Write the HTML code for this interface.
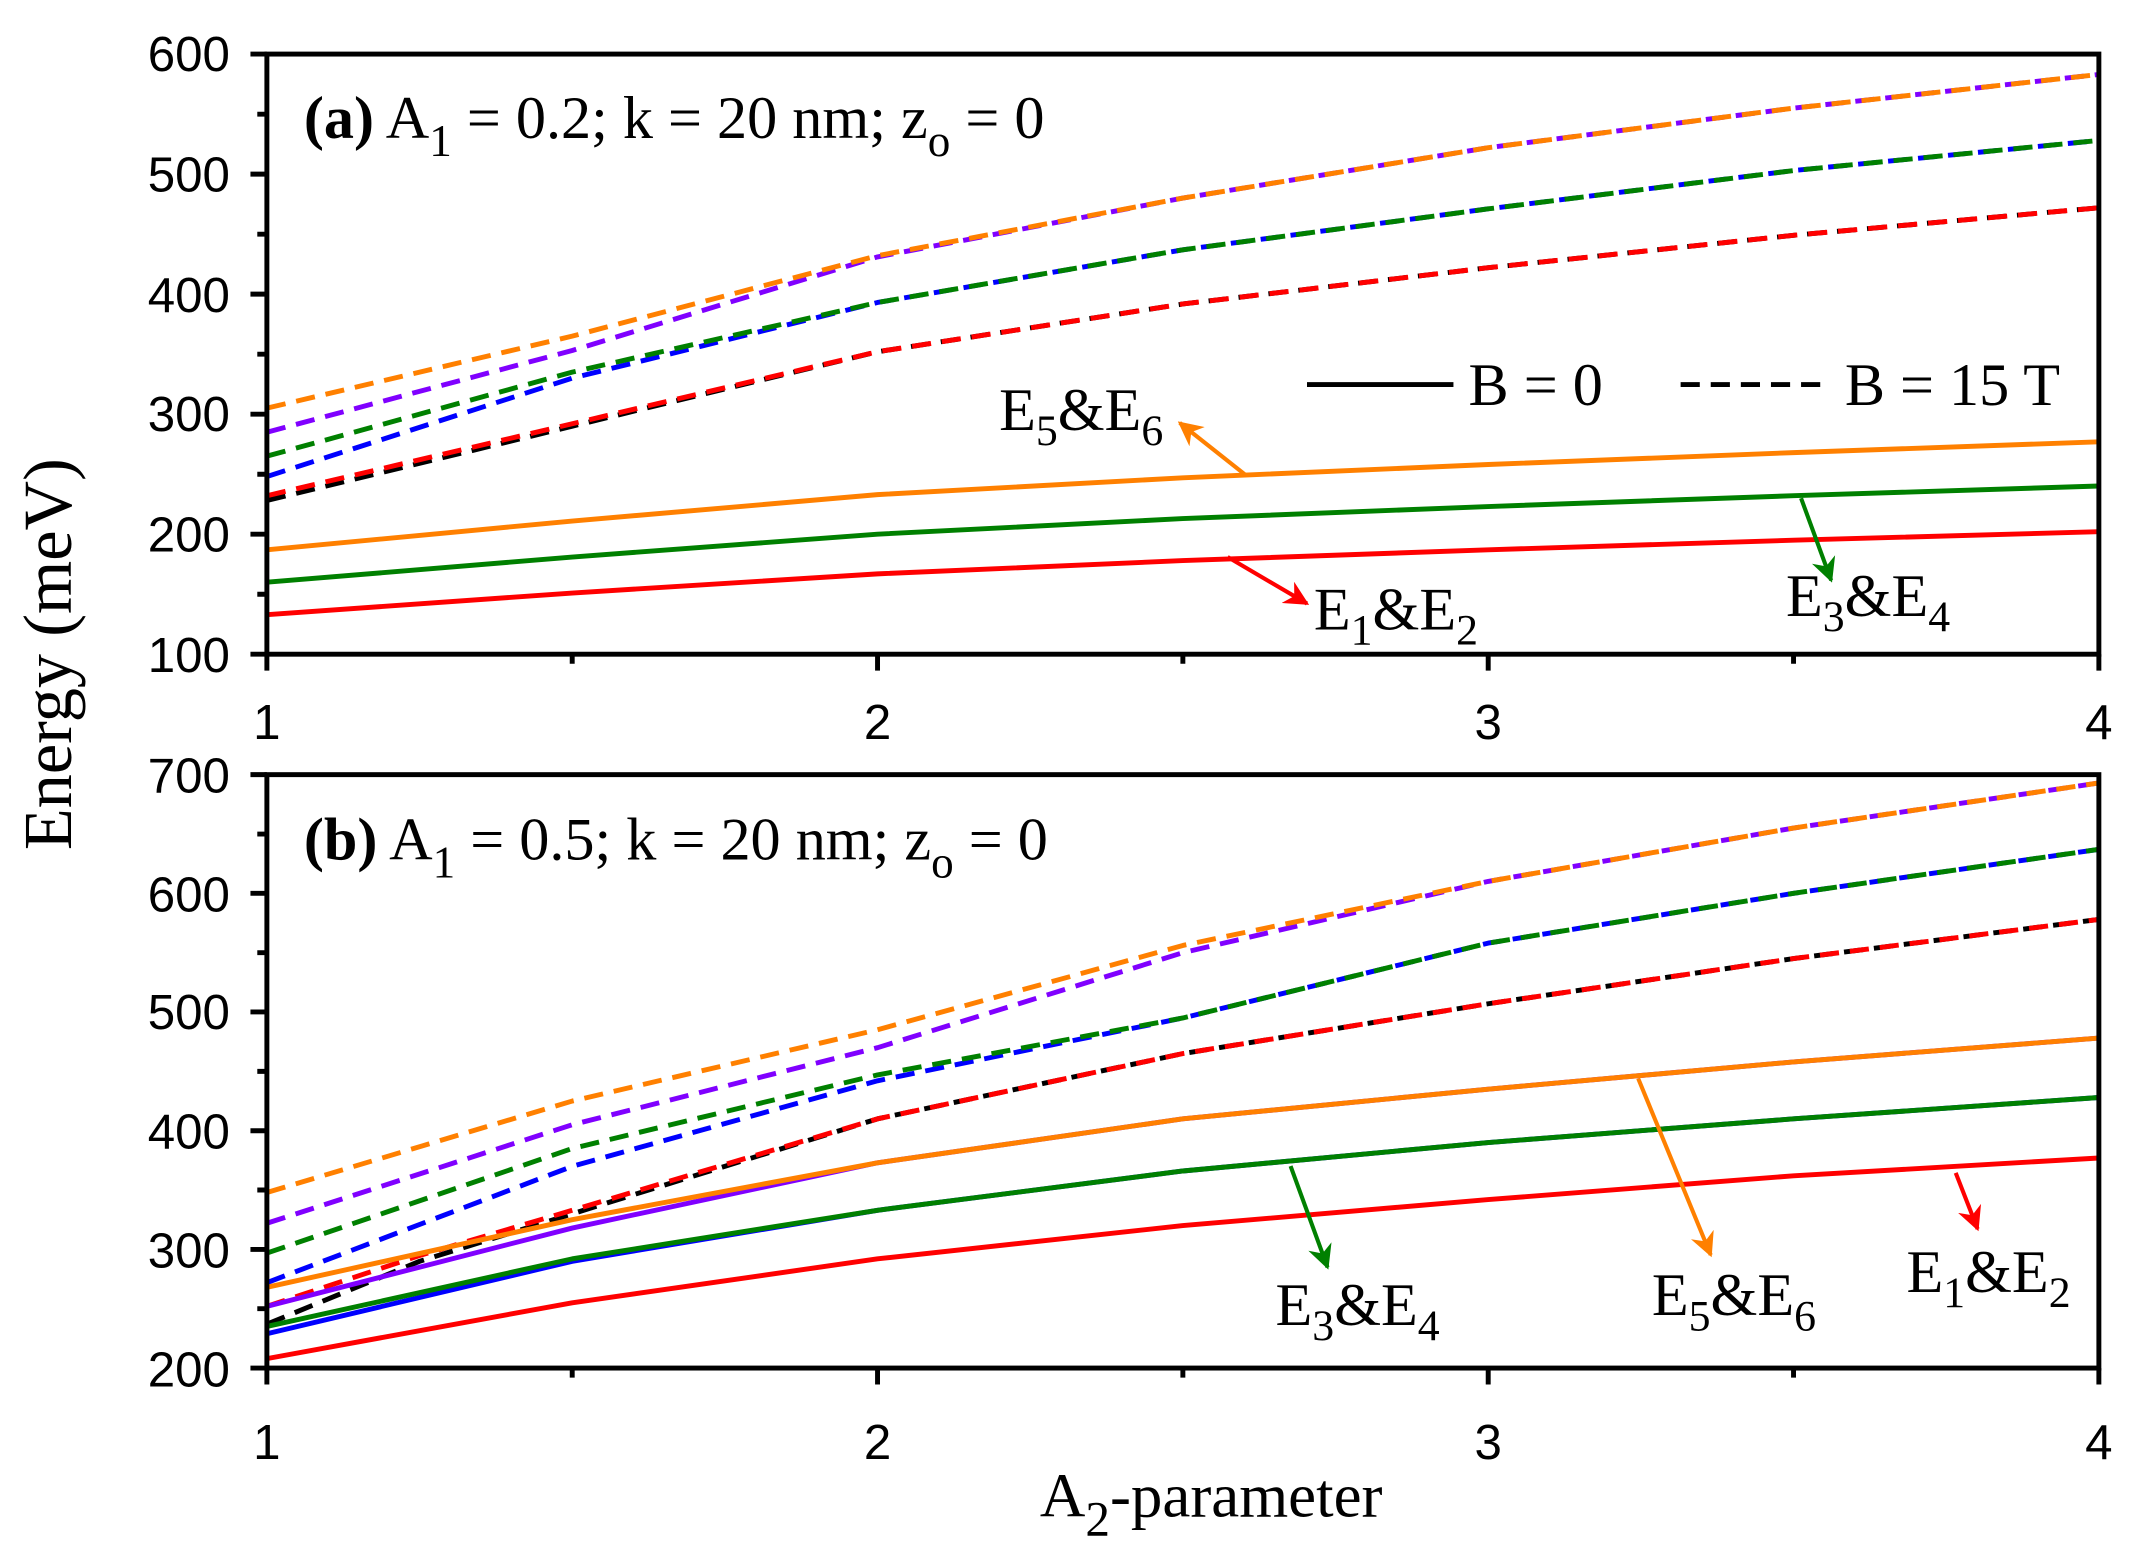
<!DOCTYPE html>
<html><head><meta charset="utf-8"><style>
html,body{margin:0;padding:0;background:#fff;}
svg{display:block;}
.t{font-family:"Liberation Sans",sans-serif;font-size:36px;fill:#000;}
.s{font-family:"Liberation Serif",serif;fill:#000;}
</style></head><body>
<svg width="2135" height="1546" viewBox="0 0 1560 1129.6" xmlns="http://www.w3.org/2000/svg">
<defs>
<marker id="mo" viewBox="0 0 10 10" refX="9" refY="5" markerWidth="6" markerHeight="6" orient="auto" markerUnits="strokeWidth"><path d="M0,0 L10,5 L0,10 L3,5 Z" fill="#ff8000"/></marker>
<marker id="mr" viewBox="0 0 10 10" refX="9" refY="5" markerWidth="6" markerHeight="6" orient="auto" markerUnits="strokeWidth"><path d="M0,0 L10,5 L0,10 L3,5 Z" fill="#ff0000"/></marker>
<marker id="mg" viewBox="0 0 10 10" refX="9" refY="5" markerWidth="6" markerHeight="6" orient="auto" markerUnits="strokeWidth"><path d="M0,0 L10,5 L0,10 L3,5 Z" fill="#008000"/></marker>
</defs>
<rect width="1560" height="1130" fill="#fff"/>
<g fill="none" stroke-width="3.6" stroke-linejoin="round">
<g stroke-dasharray="14,8">
<polyline stroke="#000" points="195,365.7 418.1,311.4 641.2,257 864.3,222.1 1087.4,195.6 1310.5,171.9 1533.6,151.8"/>
<polyline stroke="#ff0000" points="195,362.2 418.1,309.6 641.2,257 864.3,222.1 1087.4,195.6 1310.5,171.9 1533.6,151.8"/>
<polyline stroke="#0000ff" points="195,348.2 418.1,276.3 641.2,221 864.3,182.5 1087.4,152.6 1310.5,124.6 1533.6,102.6"/>
<polyline stroke="#008000" points="195,333.3 418.1,271.9 641.2,221 864.3,182.5 1087.4,152.6 1310.5,124.6 1533.6,102.6"/>
<polyline stroke="#8000ff" points="195,315.8 418.1,256.1 641.2,187.7 864.3,144.7 1087.4,107.9 1310.5,79 1533.6,54.4"/>
<polyline stroke="#ff8000" points="195,298.2 418.1,245.6 641.2,186.8 864.3,144.7 1087.4,107.9 1310.5,79 1533.6,54.4"/>
</g>
<polyline stroke="#ff0000" points="195,449.1 418.1,433.3 641.2,419.3 864.3,409.6 1087.4,401.7 1310.5,394.7 1533.6,388.5"/>
<polyline stroke="#008000" points="195,425.4 418.1,407 641.2,390.3 864.3,378.9 1087.4,370.1 1310.5,362.2 1533.6,355.1"/>
<polyline stroke="#ff8000" points="195,401.7 418.1,380.7 641.2,361.4 864.3,349.1 1087.4,339.4 1310.5,330.7 1533.6,322.8"/>
<g stroke-dasharray="14,8">
<polyline stroke="#000" points="195,967.5 306.6,921.6 418.1,886.9 641.2,817.5 864.3,769.8 1087.4,733.4 1310.5,700.4 1533.6,671.8"/>
<polyline stroke="#ff0000" points="195,954.5 306.6,917.4 418.1,884.3 641.2,817.5 864.3,769.8 1087.4,733.4 1310.5,700.4 1533.6,671.8"/>
<polyline stroke="#0000ff" points="195,937.2 418.1,852.2 641.2,789.7 864.3,743.8 1087.4,689.1 1310.5,652.7 1533.6,620.6"/>
<polyline stroke="#008000" points="195,915.6 418.1,839.2 641.2,785.4 864.3,743.8 1087.4,689.1 1310.5,652.7 1533.6,620.6"/>
<polyline stroke="#8000ff" points="195,893.8 418.1,821.8 641.2,765.5 864.3,696.1 1087.4,644 1310.5,605 1533.6,572.1"/>
<polyline stroke="#ff8000" points="195,871.3 418.1,804.5 641.2,752.4 864.3,690.8 1087.4,644 1310.5,605 1533.6,572.1"/>
</g>
<polyline stroke="#ff0000" points="195,992.7 418.1,951.9 641.2,919.8 864.3,895.5 1087.4,876.5 1310.5,859.1 1533.6,846.1"/>
<polyline stroke="#0000ff" points="195,974.5 418.1,921.6 641.2,884.3 864.3,855.6 1087.4,834.8 1310.5,817.5 1533.6,801.9"/>
<polyline stroke="#008000" points="195,969.2 418.1,919.8 641.2,884.3 864.3,855.6 1087.4,834.8 1310.5,817.5 1533.6,801.9"/>
<polyline stroke="#8000ff" points="195,954.5 418.1,897.3 641.2,849.6 864.3,817.5 1087.4,795.8 1310.5,775.9 1533.6,758.5"/>
<polyline stroke="#ff8000" points="195,940.6 418.1,891.2 641.2,849.6 864.3,817.5 1087.4,795.8 1310.5,775.9 1533.6,758.5"/>
</g>
<g stroke="#000" stroke-width="3.6" fill="none">
<rect x="195" y="39.5" width="1338.6" height="438.5"/>
<rect x="195" y="566" width="1338.6" height="433.6"/>
<path d="M195,478v12M418.1,478v7M641.2,478v12M864.3,478v7M1087.4,478v12M1310.5,478v7M1533.6,478v12
M195,999.6v12M418.1,999.6v7M641.2,999.6v12M864.3,999.6v7M1087.4,999.6v12M1310.5,999.6v7M1533.6,999.6v12
M195,39.5h-12M195,83.4h-7M195,127.2h-12M195,171.1h-7M195,214.9h-12M195,258.8h-7M195,302.6h-12M195,346.5h-7M195,390.3h-12M195,434.2h-7M195,478h-12
M195,566h-12M195,609.4h-7M195,652.7h-12M195,696.1h-7M195,739.4h-12M195,782.8h-7M195,826.2h-12M195,869.5h-7M195,912.9h-12M195,956.2h-7M195,999.6h-12"/>
</g>
<g class="t" text-anchor="end">
<text x="168" y="52">600</text><text x="168" y="140">500</text><text x="168" y="228">400</text><text x="168" y="315">300</text><text x="168" y="403">200</text><text x="168" y="491">100</text>
<text x="168" y="579">700</text><text x="168" y="666">600</text><text x="168" y="752">500</text><text x="168" y="839">400</text><text x="168" y="926">300</text><text x="168" y="1013">200</text>
</g>
<g class="t" text-anchor="middle">
<text x="195" y="540">1</text><text x="641.2" y="540">2</text><text x="1087.4" y="540">3</text><text x="1533.6" y="540">4</text>
<text x="195" y="1066">1</text><text x="641.2" y="1066">2</text><text x="1087.4" y="1066">3</text><text x="1533.6" y="1066">4</text>
</g>
<text class="s" x="222" y="101" font-size="44"><tspan font-weight="bold">(a)</tspan>  A<tspan font-size="33" dy="13">1</tspan><tspan dy="-13"> = 0.2; k = 20 nm; z</tspan><tspan font-size="33" dy="13">o</tspan><tspan dy="-13"> = 0</tspan></text>
<text class="s" x="222" y="628" font-size="44"><tspan font-weight="bold">(b)</tspan>  A<tspan font-size="33" dy="13">1</tspan><tspan dy="-13"> = 0.5; k = 20 nm; z</tspan><tspan font-size="33" dy="13">o</tspan><tspan dy="-13"> = 0</tspan></text>
<text class="s" font-size="50" transform="translate(52,478) rotate(-90)" text-anchor="middle">Energy (meV)</text>
<text class="s" x="885" y="1108" font-size="46" text-anchor="middle">A<tspan font-size="36" dy="14">2</tspan><tspan dy="-14">-parameter</tspan></text>
<line x1="955" y1="281" x2="1062" y2="281" stroke="#000" stroke-width="3.6"/>
<text class="s" x="1073" y="296" font-size="44">B = 0</text>
<line x1="1228" y1="281" x2="1335" y2="281" stroke="#000" stroke-width="3.6" stroke-dasharray="14,8"/>
<text class="s" x="1348" y="296" font-size="44">B = 15 T</text>
<g class="s" font-size="44">
<text x="730" y="314">E<tspan font-size="32" dy="11">5</tspan><tspan dy="-11">&amp;E</tspan><tspan font-size="32" dy="11">6</tspan></text>
<text x="960" y="460">E<tspan font-size="32" dy="11">1</tspan><tspan dy="-11">&amp;E</tspan><tspan font-size="32" dy="11">2</tspan></text>
<text x="1305" y="450">E<tspan font-size="32" dy="11">3</tspan><tspan dy="-11">&amp;E</tspan><tspan font-size="32" dy="11">4</tspan></text>
<text x="932" y="968">E<tspan font-size="32" dy="11">3</tspan><tspan dy="-11">&amp;E</tspan><tspan font-size="32" dy="11">4</tspan></text>
<text x="1207" y="961">E<tspan font-size="32" dy="11">5</tspan><tspan dy="-11">&amp;E</tspan><tspan font-size="32" dy="11">6</tspan></text>
<text x="1393" y="944">E<tspan font-size="32" dy="11">1</tspan><tspan dy="-11">&amp;E</tspan><tspan font-size="32" dy="11">2</tspan></text>
</g>
<g stroke-width="3">
<line x1="910" y1="347" x2="862" y2="309" stroke="#ff8000" marker-end="url(#mo)"/>
<line x1="897" y1="407" x2="955" y2="441" stroke="#ff0000" marker-end="url(#mr)"/>
<line x1="1316" y1="364" x2="1338" y2="424" stroke="#008000" marker-end="url(#mg)"/>
<line x1="943" y1="852" x2="970" y2="926" stroke="#008000" marker-end="url(#mg)"/>
<line x1="1197" y1="788" x2="1250" y2="917" stroke="#ff8000" marker-end="url(#mo)"/>
<line x1="1429" y1="857" x2="1445" y2="898" stroke="#ff0000" marker-end="url(#mr)"/>
</g>
</svg>
</body></html>
